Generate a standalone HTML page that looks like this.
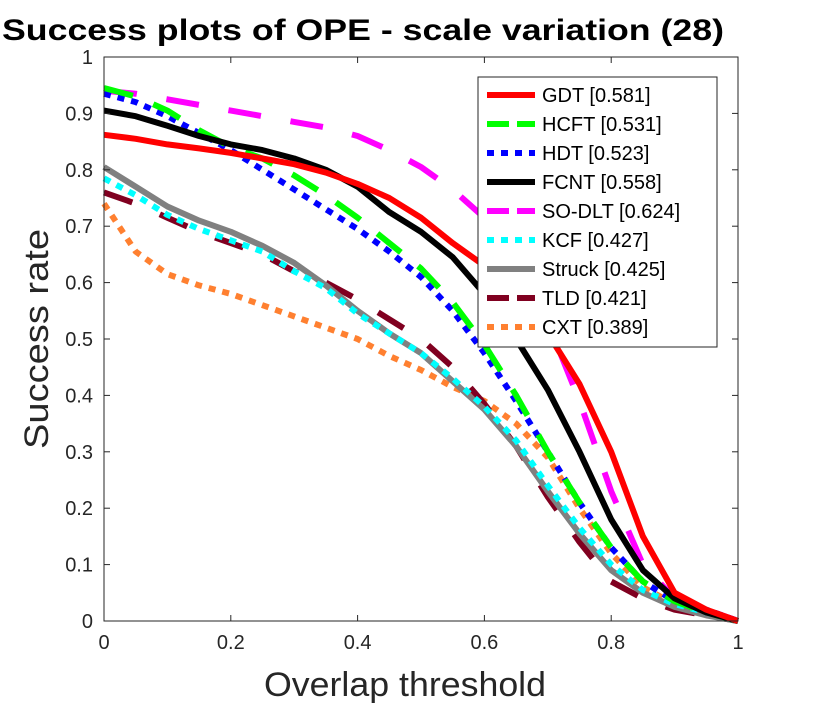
<!DOCTYPE html>
<html><head><meta charset="utf-8"><style>
html,body{margin:0;padding:0;background:#fff;}
svg{display:block;font-family:"Liberation Sans",sans-serif;}
</style></head><body>
<svg id="chart" width="830" height="705" viewBox="0 0 830 705" xmlns="http://www.w3.org/2000/svg">
<text x="2" y="40" font-size="30" font-weight="bold" textLength="722" lengthAdjust="spacingAndGlyphs">Success plots of OPE - scale variation (28)</text>
<g id="grid"></g>
<g id="series"></g>
<rect x="104" y="57" width="634" height="564" fill="none" stroke="#262626" stroke-width="1"/>
<g id="ticks"></g>
<text transform="translate(48,339) rotate(-90)" text-anchor="middle" font-size="34" fill="#262626" textLength="220" lengthAdjust="spacingAndGlyphs">Success rate</text>
<text x="405" y="696" text-anchor="middle" font-size="34" fill="#262626" textLength="282" lengthAdjust="spacingAndGlyphs">Overlap threshold</text>
<g id="legend"></g>
</svg>
<script>
const thresholds=[0,0.05,0.1,0.15,0.2,0.25,0.3,0.35,0.4,0.45,0.5,0.55,0.6,0.65,0.7,0.75,0.8,0.85,0.9,0.95,1];
const xTicks=[0,0.2,0.4,0.6,0.8,1];
const yTicks=[0,0.1,0.2,0.3,0.4,0.5,0.6,0.7,0.8,0.9,1];
const xTickLabels=["0","0.2","0.4","0.6","0.8","1"];
const yTickLabels=["0","0.1","0.2","0.3","0.4","0.5","0.6","0.7","0.8","0.9","1"];
const names=["GDT [0.581]","HCFT [0.531]","HDT [0.523]","FCNT [0.558]","SO-DLT [0.624]","KCF [0.427]","Struck [0.425]","TLD [0.421]","CXT [0.389]"];
const gdt=[0.862,0.855,0.845,0.838,0.83,0.82,0.81,0.795,0.775,0.75,0.715,0.67,0.63,0.575,0.51,0.42,0.3,0.15,0.05,0.02,0];
const hcft=[0.945,0.93,0.905,0.87,0.84,0.82,0.79,0.755,0.715,0.67,0.625,0.565,0.49,0.4,0.3,0.21,0.13,0.07,0.035,0.015,0];
const hdt=[0.935,0.92,0.895,0.865,0.835,0.8,0.765,0.73,0.695,0.655,0.61,0.55,0.475,0.39,0.3,0.21,0.13,0.07,0.035,0.02,0];
const fcnt=[0.905,0.895,0.878,0.86,0.845,0.835,0.82,0.8,0.77,0.725,0.69,0.645,0.58,0.5,0.41,0.3,0.18,0.09,0.04,0.015,0];
const sodlt=[0.94,0.935,0.925,0.915,0.905,0.895,0.885,0.875,0.86,0.835,0.805,0.765,0.715,0.64,0.53,0.39,0.23,0.1,0.04,0.02,0];
const kcf=[0.785,0.755,0.72,0.695,0.675,0.655,0.62,0.59,0.545,0.51,0.475,0.43,0.38,0.32,0.24,0.165,0.1,0.055,0.03,0.015,0];
const struck=[0.805,0.77,0.735,0.71,0.69,0.665,0.635,0.595,0.55,0.51,0.475,0.425,0.375,0.31,0.23,0.155,0.09,0.05,0.025,0.01,0];
const tld=[0.76,0.74,0.715,0.69,0.67,0.65,0.62,0.6,0.57,0.535,0.5,0.45,0.385,0.31,0.22,0.14,0.07,0.04,0.02,0.01,0];
const cxt=[0.74,0.655,0.615,0.595,0.58,0.56,0.54,0.52,0.5,0.47,0.445,0.415,0.39,0.35,0.29,0.2,0.12,0.06,0.03,0.015,0];

const NS="http://www.w3.org/2000/svg";
const X0=104,X1=738,Y0=621,Y1=57;
function xs(v){return X0+(X1-X0)*v;}
function ys(v){return Y0-(Y0-Y1)*v;}
function mk(tag,attrs,parent){const e=document.createElementNS(NS,tag);for(const k in attrs)e.setAttribute(k,attrs[k]);parent.appendChild(e);return e;}

const tg=document.getElementById('ticks');
xTicks.forEach((t,i)=>{
  const a=mk('line',{x1:xs(t),x2:xs(t),y1:Y0,y2:Y0-6,stroke:'#262626'},tg);
  
  
  const b=mk('line',{x1:xs(t),x2:xs(t),y1:Y1,y2:Y1+6,stroke:'#262626'},tg);
  
  
  const l=mk('text',{x:xs(t),y:Y0+28,'text-anchor':'middle','font-size':20,fill:'#262626'},tg);
  l.textContent=xTickLabels[i];
  
  
});
yTicks.forEach((t,i)=>{
  const a=mk('line',{x1:X0,x2:X0+6,y1:ys(t),y2:ys(t),stroke:'#262626'},tg);
  
  
  const b=mk('line',{x1:X1,x2:X1-6,y1:ys(t),y2:ys(t),stroke:'#262626'},tg);
  
  
  const l=mk('text',{x:X0-11,y:ys(t)+7,'text-anchor':'end','font-size':20,fill:'#262626'},tg);
  l.textContent=yTickLabels[i];
  
  
});

const styles=[
 {c:'#ff0000',d:'',k:'gdt'},
 {c:'#00ff00',d:'30 22',k:'hcft'},
 {c:'#0000ff',d:'7 7',k:'hdt'},
 {c:'#000000',d:'',k:'fcnt'},
 {c:'#ff00ff',d:'33 30',k:'sodlt'},
 {c:'#00ffff',d:'7 7',k:'kcf'},
 {c:'#808080',d:'',k:'struck'},
 {c:'#800020',d:'30 30',k:'tld'},
 {c:'#ff8030',d:'7 7',k:'cxt'}
];
const data=[gdt,hcft,hdt,fcnt,sodlt,kcf,struck,tld,cxt];
const sg=document.getElementById('series');
const order=[8,7,6,5,4,2,1,3,0];
order.forEach(i=>{
  const pts=thresholds.map((t,j)=>xs(t).toFixed(1)+','+ys(data[i][j]).toFixed(1)).join(' ');
  const attrs={points:pts,fill:'none',stroke:styles[i].c,'stroke-width':6,'stroke-linejoin':'round'};
  if(styles[i].d)attrs['stroke-dasharray']=styles[i].d;
  const p=mk('polyline',attrs,sg);
  
  
});

const lg=document.getElementById('legend');
const box=mk('rect',{x:478,y:77,width:239,height:270,fill:'#fff',stroke:'#262626','stroke-width':1},lg);


names.forEach((n,i)=>{
  const y=95+i*29;
  const g=mk('g',{},lg);
  
  
  const la={x1:487,x2:535,y1:y,y2:y,stroke:styles[i].c,'stroke-width':6};
  if(styles[i].d)la['stroke-dasharray']=styles[i].d.startsWith('7')?'7 7':'22 8';
  mk('line',la,g);
  const t=mk('text',{x:542,y:y+7,'font-size':20,fill:'#000'},g);
  t.textContent=n;
});
</script>
</body></html>
